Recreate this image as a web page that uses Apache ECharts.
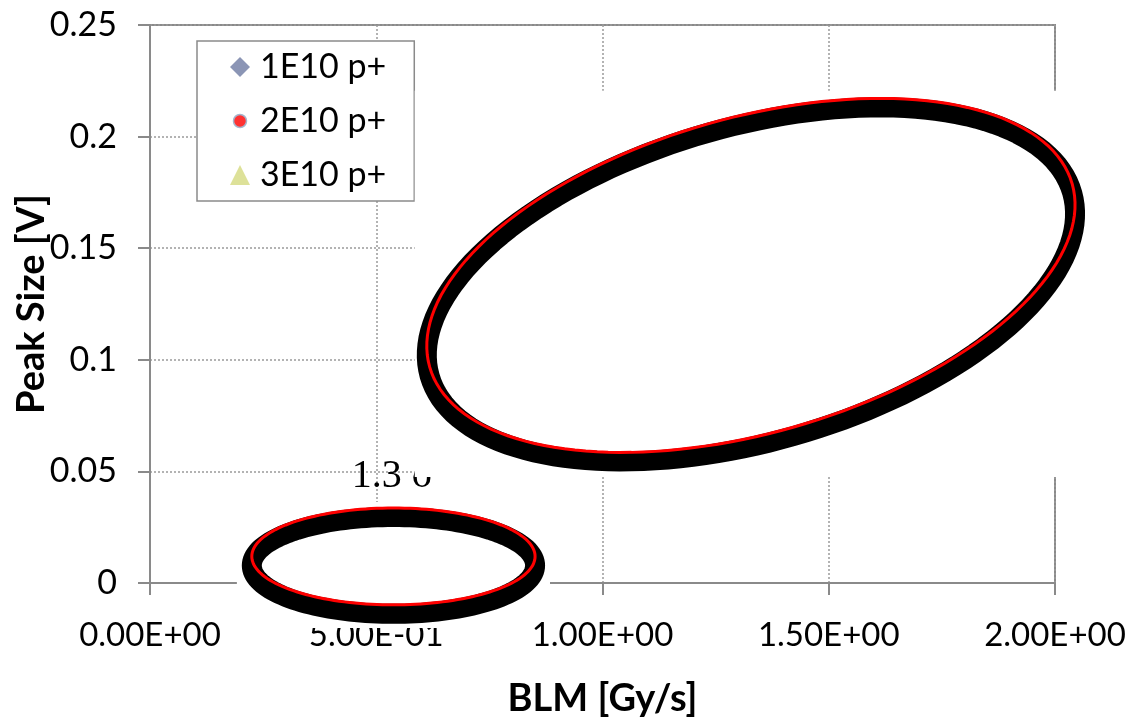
<!DOCTYPE html>
<html>
<head>
<meta charset="utf-8">
<script src="https://cdn.jsdelivr.net/npm/echarts@6/dist/echarts.min.js"></script>
<style>
  html, body { margin: 0; padding: 0; background: #fff; }
  #chart { width: 1128px; height: 722px; }
</style>
</head>
<body>
<div id="chart"></div>
<script>
// legend series (their points sit under the white picture in the original)
const seriesNames = ['1E10 p+', '2E10 p+', '3E10 p+'];
const seriesColors = ['#6E7AA3', '#FF0000', '#D5DA80'];

// axis ticks
const xTicks = { min: 0, max: 2, step: 0.5 };
const yTicks = { min: 0, max: 0.25, step: 0.05 };

// ellipses, in data units: centre, end of major axis, end of minor axis
const ringCenter = [[1.328, 0.1378], [0.538, 0.0119]];
const ringMajorEnd = [[2.038, 0.1788], [0.851, 0.0119]];
const ringMinorEnd = [[1.423, 0.0699], [0.538, -0.0098]];

// white patches of the pasted picture, in data units: [x0, x1, y0, y1]
const maskBoxes = [
  [0.585, 2.09, 0.0475, 0.2205],
  [0.192, 0.884, -0.0075, 0.0363],
  [0.26, 0.78, -0.0202, -0.0075]
];

// annotation
const noteText = ['1.3 σ'];
const notePos = [[0.446, 0.0477]];

const chart = echarts.init(document.getElementById('chart'));

function fmtExp(v) {
  const parts = v.toExponential(2).split('e');
  const e = parts[1];
  return parts[0] + 'E' + e[0] + e.slice(1).padStart(2, '0');
}

function ringItem(params, api) {
  const c = api.coord([api.value(0), api.value(1)]);
  const u = api.coord([api.value(2), api.value(3)]);
  const v = api.coord([api.value(4), api.value(5)]);
  const pts = [];
  const n = 160;
  for (let k = 0; k < n; k++) {
    const t = (k / n) * Math.PI * 2;
    const ct = Math.cos(t), st = Math.sin(t);
    pts.push([
      c[0] + (u[0] - c[0]) * ct + (v[0] - c[0]) * st,
      c[1] + (u[1] - c[1]) * ct + (v[1] - c[1]) * st
    ]);
  }
  return {
    type: 'group',
    children: [
      { type: 'polygon', x: 0, y: 9, shape: { points: pts }, style: { fill: null, stroke: '#000', lineWidth: 20 } },
      { type: 'polygon', shape: { points: pts }, style: { fill: null, stroke: '#FF0000', lineWidth: 3 } }
    ]
  };
}

function maskItem(params, api) {
  const p0 = api.coord([api.value(0), api.value(3)]);
  const p1 = api.coord([api.value(1), api.value(2)]);
  return {
    type: 'rect',
    shape: { x: p0[0], y: p0[1], width: p1[0] - p0[0], height: p1[1] - p0[1] },
    style: { fill: '#fff' }
  };
}

function noteItem(params, api) {
  const p = api.coord([api.value(0), api.value(1)]);
  return {
    type: 'text',
    style: {
      text: noteText[params.dataIndex],
      x: p[0], y: p[1],
      font: '40px "Liberation Serif"',
      fill: '#000',
      align: 'left',
      verticalAlign: 'middle'
    }
  };
}

const circleIcon = 'image://data:image/svg+xml;utf8,' + encodeURIComponent(
  '<svg xmlns="http://www.w3.org/2000/svg" width="20" height="20" viewBox="0 0 20 20">' +
  '<circle cx="10" cy="10" r="6.5" fill="#FF0000" stroke="#8EA3C0" stroke-width="1.5"/></svg>');

const axisGray = '#8A8A8A';

const option = {
  animation: false,
  backgroundColor: '#fff',
  textStyle: { fontFamily: 'Lato' },
  grid: {
    left: 150, right: 73, top: 25, bottom: 139,
    outerBoundsMode: 'none', containLabel: false,
    show: true, borderColor: axisGray, borderWidth: 2, backgroundColor: 'transparent'
  },
  legend: {
    orient: 'vertical',
    left: 197, top: 41,
    backgroundColor: '#fff',
    borderColor: axisGray, borderWidth: 1.5, borderRadius: 0,
    padding: [9, 28, 9, 33],
    itemWidth: 20, itemHeight: 20, itemGap: 20,
    textStyle: { fontFamily: 'Lato', fontSize: 34, color: '#000', lineHeight: 33, padding: [0, 0, 0, 5] },
    data: [
      { name: seriesNames[0], icon: 'diamond' },
      { name: seriesNames[1], icon: circleIcon },
      { name: seriesNames[2], icon: 'triangle' }
    ]
  },
  xAxis: {
    type: 'value',
    min: xTicks.min, max: xTicks.max, interval: xTicks.step,
    name: 'BLM [Gy/s]', nameLocation: 'middle', nameGap: 97, nameMoveOverlap: false,
    nameTextStyle: { fontFamily: 'Lato', fontWeight: 'bold', fontSize: 38, color: '#000' },
    axisLine: { onZero: false, lineStyle: { color: axisGray, width: 2 } },
    axisTick: { show: true, length: 12, lineStyle: { color: axisGray, width: 2 } },
    axisLabel: { fontFamily: 'Lato', fontSize: 33, color: '#000', margin: 36, formatter: fmtExp },
    splitLine: { show: true, lineStyle: { color: '#9A9A9A', width: 1.5, type: [2, 2] } }
  },
  yAxis: {
    type: 'value',
    min: yTicks.min, max: yTicks.max, interval: yTicks.step,
    name: 'Peak Size [V]', nameLocation: 'middle', nameGap: 99, nameRotate: 90, nameMoveOverlap: false,
    nameTextStyle: { fontFamily: 'Lato', fontWeight: 'bold', fontSize: 38, color: '#000' },
    axisLine: { show: true, onZero: false, lineStyle: { color: axisGray, width: 2 } },
    axisTick: { show: true, length: 12, lineStyle: { color: axisGray, width: 2 } },
    axisLabel: { fontFamily: 'Lato', fontSize: 34, color: '#000', margin: 33 },
    splitLine: { show: true, lineStyle: { color: '#9A9A9A', width: 1.5, type: [2, 2] } }
  },
  series: [
    { name: seriesNames[0], type: 'scatter', symbol: 'diamond', itemStyle: { color: seriesColors[0] }, data: [] },
    { name: seriesNames[1], type: 'scatter', symbol: 'circle', itemStyle: { color: seriesColors[1], borderColor: '#8EA3C0', borderWidth: 1.5 }, data: [] },
    { name: seriesNames[2], type: 'scatter', symbol: 'triangle', itemStyle: { color: seriesColors[2] }, data: [] },
    {
      type: 'custom', coordinateSystem: 'cartesian2d', z: 5, silent: true,
      renderItem: noteItem,
      data: notePos.map(p => [p[0], p[1]])
    },
    {
      type: 'custom', coordinateSystem: 'cartesian2d', z: 6, silent: true,
      renderItem: maskItem,
      data: maskBoxes.map(b => b.slice())
    },
    {
      type: 'custom', coordinateSystem: 'cartesian2d', z: 7, silent: true,
      renderItem: ringItem,
      data: ringCenter.map((c, i) => [c[0], c[1], ringMajorEnd[i][0], ringMajorEnd[i][1], ringMinorEnd[i][0], ringMinorEnd[i][1]])
    }
  ]
};

chart.setOption(option);
</script>
</body>
</html>
